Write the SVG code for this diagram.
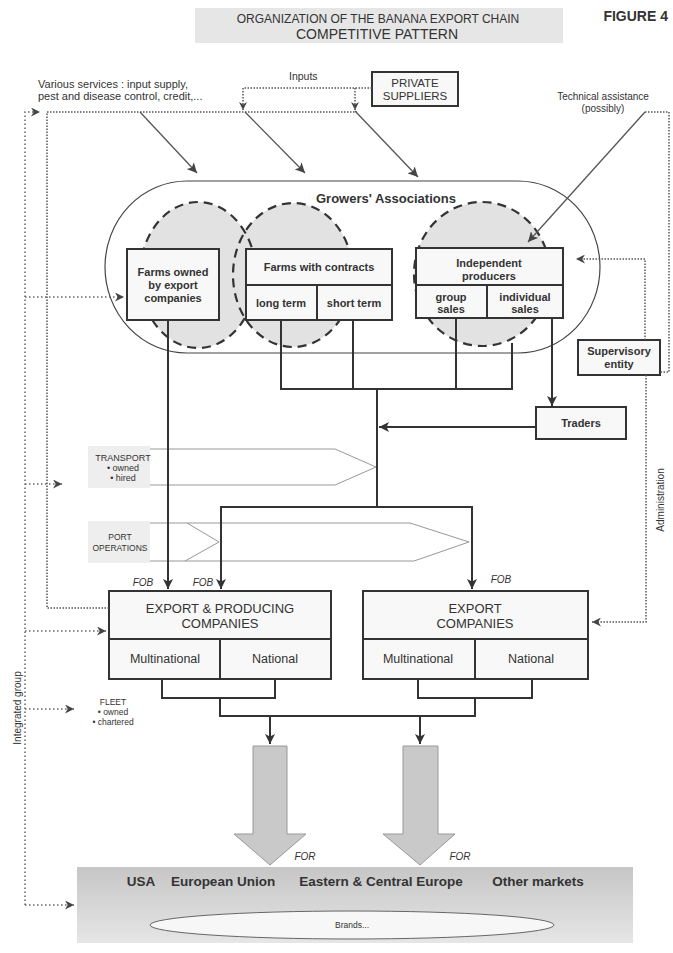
<svg xmlns="http://www.w3.org/2000/svg" width="673" height="953" viewBox="0 0 673 953">
<defs>
<style>
text{font-family:"Liberation Sans",Arial,sans-serif;fill:#333}
.b{font-weight:bold}
.box{fill:#f8f8f8;stroke:#333;stroke-width:2}
.flow{fill:none;stroke:#333;stroke-width:2}
.thin{fill:none;stroke:#555;stroke-width:1.3}
.dot{fill:none;stroke:#555;stroke-width:1.5;stroke-dasharray:1.5 1.5}
.dot2{fill:none;stroke:#666;stroke-width:1.5;stroke-dasharray:1.5 2.5}
.circ{fill:#e2e2e2;stroke:none}
.circs{fill:none;stroke:#333;stroke-width:2.2;stroke-dasharray:9 6}
.chev{fill:none;stroke:#999;stroke-width:1}
.lbl{fill:#eeeeee}
.big{fill:#c9c9c9;stroke:#999;stroke-width:1}
</style>
<marker id="ah" viewBox="0 0 10 10" refX="10" refY="5" markerWidth="10" markerHeight="10" markerUnits="userSpaceOnUse" orient="auto"><path d="M0,0 L10,5 L0,10 L2.5,5 z" fill="#333"/></marker>
<marker id="aht" viewBox="0 0 10 10" refX="10" refY="5" markerWidth="10" markerHeight="10" markerUnits="userSpaceOnUse" orient="auto"><path d="M0,0 L10,5 L0,10 L2.5,5 z" fill="#444"/></marker>
<marker id="ahd" viewBox="0 0 10 10" refX="10" refY="5" markerWidth="10" markerHeight="9" markerUnits="userSpaceOnUse" orient="auto"><path d="M0,0 L10,5 L0,10 L3,5 z" fill="#444"/></marker>
<marker id="ahs" viewBox="0 0 10 10" refX="10" refY="5" markerWidth="8" markerHeight="8" markerUnits="userSpaceOnUse" orient="auto"><path d="M0,0 L10,5 L0,10 L3,5 z" fill="#444"/></marker>
<linearGradient id="mk" x1="0" y1="0" x2="0" y2="1"><stop offset="0" stop-color="#c6c6c6"/><stop offset="1" stop-color="#e6e6e6"/></linearGradient>
</defs>
<rect width="673" height="953" fill="#ffffff"/>

<g id="title">
<rect x="195" y="8" width="368" height="35" fill="#e6e6e6"/>
<text x="378" y="22.5" font-size="12" text-anchor="middle" fill="#555">ORGANIZATION OF THE BANANA EXPORT CHAIN</text>
<text x="377" y="39" font-size="14" text-anchor="middle">COMPETITIVE PATTERN</text>
<text x="668" y="21" font-size="14" class="b" text-anchor="end">FIGURE 4</text>
</g>

<g id="labels">
<text x="38" y="88" font-size="11" fill="#444">Various services : input supply,</text>
<text x="38" y="100" font-size="11" fill="#444">pest and disease control,  credit,...</text>
<text x="289" y="80" font-size="10.5" fill="#444">Inputs</text>
<text x="603" y="100" font-size="10" text-anchor="middle" fill="#444">Technical assistance</text>
<text x="603" y="112" font-size="10" text-anchor="middle" fill="#444">(possibly)</text>
<text transform="translate(664,500) rotate(-90)" font-size="10" text-anchor="middle" fill="#555">Administration</text>
<text transform="translate(21,708) rotate(-90)" font-size="10" text-anchor="middle" fill="#555">Integrated group</text>
<text x="143" y="586" font-size="10" font-style="italic" text-anchor="middle" fill="#555">FOB</text>
<text x="203" y="586" font-size="10" font-style="italic" text-anchor="middle" fill="#555">FOB</text>
<text x="501" y="583" font-size="10" font-style="italic" text-anchor="middle" fill="#555">FOB</text>
<text x="305" y="860" font-size="10" font-style="italic" text-anchor="middle" fill="#555">FOR</text>
<text x="460" y="860" font-size="10" font-style="italic" text-anchor="middle" fill="#555">FOR</text>
</g>

<g id="private-suppliers">
<rect x="372" y="72" width="86" height="34" class="box" fill="#fff"/>
<text x="415" y="87" font-size="11.5" text-anchor="middle" fill="#444">PRIVATE</text>
<text x="415" y="100" font-size="11.5" text-anchor="middle" fill="#444">SUPPLIERS</text>
</g>

<g id="growers-associations">
<rect x="105" y="181" width="495" height="172" rx="82" ry="86" fill="none" stroke="#444" stroke-width="1.2"/>
<text x="316" y="203" font-size="13" class="b">Growers' Associations</text>
</g>

<g id="circles">
<ellipse cx="198" cy="275" rx="58" ry="73" class="circ"/>
<ellipse cx="293" cy="275" rx="60" ry="72" class="circ"/>
<ellipse cx="482" cy="274" rx="68" ry="72" class="circ"/>
<ellipse cx="198" cy="275" rx="58" ry="73" class="circs"/>
<ellipse cx="293" cy="275" rx="60" ry="72" class="circs"/>
<ellipse cx="482" cy="274" rx="68" ry="72" class="circs"/>
</g>

<g id="farms-owned">
<rect x="127" y="249" width="92" height="71" class="box"/>
<text x="173" y="276" font-size="11" class="b" text-anchor="middle">Farms owned</text>
<text x="173" y="289" font-size="11" class="b" text-anchor="middle">by export</text>
<text x="173" y="302" font-size="11" class="b" text-anchor="middle">companies</text>
</g>

<g id="farms-contracts">
<rect x="246" y="249" width="146" height="71" class="box"/>
<line x1="246" y1="285" x2="392" y2="285" stroke="#333" stroke-width="2"/>
<line x1="317" y1="285" x2="317" y2="320" stroke="#333" stroke-width="2"/>
<text x="319" y="271" font-size="11" class="b" text-anchor="middle">Farms with contracts</text>
<text x="281" y="307" font-size="11" class="b" text-anchor="middle">long term</text>
<text x="354" y="307" font-size="11" class="b" text-anchor="middle">short term</text>
</g>

<g id="independent-producers">
<rect x="416" y="248" width="147" height="70" class="box"/>
<line x1="416" y1="285" x2="563" y2="285" stroke="#333" stroke-width="2"/>
<line x1="487" y1="285" x2="487" y2="318" stroke="#333" stroke-width="2"/>
<text x="489" y="267" font-size="11" class="b" text-anchor="middle">Independent</text>
<text x="489" y="280" font-size="11" class="b" text-anchor="middle">producers</text>
<text x="451" y="301" font-size="11" class="b" text-anchor="middle">group</text>
<text x="451" y="313" font-size="11" class="b" text-anchor="middle">sales</text>
<text x="525" y="301" font-size="11" class="b" text-anchor="middle">individual</text>
<text x="525" y="313" font-size="11" class="b" text-anchor="middle">sales</text>
</g>

<g id="supervisory-entity">
<rect x="578" y="340" width="82" height="35" class="box"/>
<text x="619" y="355" font-size="11" class="b" text-anchor="middle">Supervisory</text>
<text x="619" y="368" font-size="11" class="b" text-anchor="middle">entity</text>
</g>

<g id="traders">
<rect x="536" y="407" width="90" height="32" class="box"/>
<text x="581" y="427" font-size="11" class="b" text-anchor="middle">Traders</text>
</g>

<g id="transport">
<rect x="88" y="446" width="62" height="42" class="lbl"/>
<path d="M150,449 H335 L376,467 L335,485 H150" class="chev"/>
<text x="123" y="461" font-size="9" text-anchor="middle" fill="#444">TRANSPORT</text>
<text x="123" y="471" font-size="9" text-anchor="middle" fill="#444">• owned</text>
<text x="123" y="481" font-size="9" text-anchor="middle" fill="#444">• hired</text>
</g>

<g id="port-operations">
<rect x="88" y="521" width="62" height="42" class="lbl"/>
<path d="M150,523 H410 L469,542 L414,561 H150" class="chev"/>
<path d="M187,523 L219,542 L185,561" class="chev"/>
<text x="120" y="540" font-size="8.5" text-anchor="middle" fill="#444">PORT</text>
<text x="120" y="551" font-size="8.5" text-anchor="middle" fill="#444">OPERATIONS</text>
</g>

<g id="export-producing-companies">
<rect x="109" y="591" width="222" height="88" class="box"/>
<line x1="109" y1="639" x2="331" y2="639" stroke="#333" stroke-width="2"/>
<line x1="220" y1="639" x2="220" y2="679" stroke="#333" stroke-width="2"/>
<text x="220" y="613" font-size="13" text-anchor="middle">EXPORT &amp; PRODUCING</text>
<text x="220" y="628" font-size="13" text-anchor="middle">COMPANIES</text>
<text x="165" y="663" font-size="12.5" text-anchor="middle">Multinational</text>
<text x="275" y="663" font-size="12.5" text-anchor="middle">National</text>
</g>

<g id="export-companies">
<rect x="363" y="591" width="225" height="88" class="box"/>
<line x1="363" y1="639" x2="588" y2="639" stroke="#333" stroke-width="2"/>
<line x1="475" y1="639" x2="475" y2="679" stroke="#333" stroke-width="2"/>
<text x="475" y="613" font-size="13" text-anchor="middle">EXPORT</text>
<text x="475" y="628" font-size="13" text-anchor="middle">COMPANIES</text>
<text x="418" y="663" font-size="12.5" text-anchor="middle">Multinational</text>
<text x="531" y="663" font-size="12.5" text-anchor="middle">National</text>
</g>

<g id="fleet">
<text x="113" y="705" font-size="8.5" text-anchor="middle" fill="#444">FLEET</text>
<text x="113" y="715" font-size="8.5" text-anchor="middle" fill="#444">• owned</text>
<text x="113" y="725" font-size="8.5" text-anchor="middle" fill="#444">• chartered</text>
</g>

<g id="markets">
<rect x="77" y="867" width="556" height="76" fill="url(#mk)"/>
<text x="141" y="886" font-size="13.5" class="b" text-anchor="middle">USA</text>
<text x="223" y="886" font-size="13.5" class="b" text-anchor="middle">European Union</text>
<text x="381" y="886" font-size="13.5" class="b" text-anchor="middle">Eastern &amp; Central Europe</text>
<text x="538" y="886" font-size="13.5" class="b" text-anchor="middle">Other markets</text>
<ellipse cx="352" cy="925" rx="202" ry="14" fill="#f7f7f7" stroke="#666" stroke-width="1"/>
<text x="352" y="928" font-size="8.5" text-anchor="middle" fill="#555">Brands...</text>
</g>

<g id="connectors">
<path d="M372,88 H243" class="dot"/>
<path d="M243,88 V110" class="dot" marker-end="url(#ahs)"/>
<path d="M355,88 V110" class="dot" marker-end="url(#ahs)"/>
<path d="M109,608 H47 V112 H357" class="dot"/>
<path d="M25,905 V112 H40" class="dot2" marker-end="url(#ahd)"/>
<path d="M25,297 H124" class="dot2" marker-end="url(#ahd)"/>
<path d="M25,484 H62" class="dot2" marker-end="url(#ahd)"/>
<path d="M25,631 H106" class="dot2" marker-end="url(#ahd)"/>
<path d="M25,709 H74" class="dot2" marker-end="url(#ahd)"/>
<path d="M25,905 H74" class="dot2" marker-end="url(#ahd)"/>
<path d="M645,112 H669 V372 H660" class="dot"/>
<path d="M645,340 V259 H576" class="dot" marker-end="url(#ahd)"/>
<path d="M646,375 V622 H592" class="dot" marker-end="url(#ahd)"/>
<path d="M140,112 L197,173" class="thin" marker-end="url(#aht)"/>
<path d="M245,112 L305,173" class="thin" marker-end="url(#aht)"/>
<path d="M355,111 L418,177" class="thin" marker-end="url(#aht)"/>
<path d="M645,112 L528,242" class="thin" marker-end="url(#aht)"/>
<path d="M168,320 V589" class="flow" marker-end="url(#ah)"/>
<path d="M281,320 V389 M353,320 V389 M456,318 V389 M512,343 V389 M280,389 H513" class="flow"/>
<path d="M377,389 V507" class="flow"/>
<path d="M552,318 V406" class="flow" marker-end="url(#ah)"/>
<path d="M536,427 H379" class="flow" marker-end="url(#ah)"/>
<path d="M220,507 H473" class="flow"/>
<path d="M221,507 V589" class="flow" marker-end="url(#ah)"/>
<path d="M472,507 V589" class="flow" marker-end="url(#ah)"/>
<path d="M162,679 V698 H275 V679 M220,698 V716 M418,679 V698 H532 V679 M475,698 V716 M219,716 H476" class="flow"/>
<path d="M270,716 V744" class="flow" marker-end="url(#ah)"/>
<path d="M420,716 V744" class="flow" marker-end="url(#ah)"/>
<path d="M253,746 H287 V834 H306 L270,865 L234,834 H253 Z" class="big"/>
<path d="M403,746 H438 V834 H455 L420,865 L383,834 H403 Z" class="big"/>
</g>
</svg>
